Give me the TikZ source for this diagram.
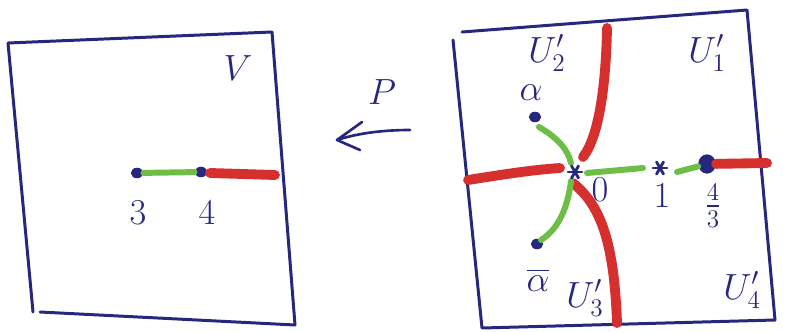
\documentclass[tikz,border=0pt]{standalone}
\usepackage{amsmath}
\usetikzlibrary{arrows.meta,calc,shapes.geometric}
\definecolor{ink}{HTML}{27277E}
\definecolor{redc}{HTML}{D5302E}
\definecolor{greenc}{HTML}{6DBE45}

\begin{document}
\begin{tikzpicture}[
  x=0.02cm,y=-0.02cm,
  frame/.style={draw=ink,line width=1.7pt,line join=round,line cap=round},
  redarc/.style={draw=redc,line width=5.6pt,line cap=round},
  greenarc/.style={draw=greenc,line width=3.4pt,line cap=round},
  pt/.style={ellipse,fill=ink,inner sep=0pt,minimum width=7pt,minimum height=6pt},
  lbl/.style={text=ink,font=\huge,inner sep=1pt},
]
\useasboundingbox (0,0) rectangle (786,331);

% ===================== LEFT PANEL: V =====================
\draw[frame] (8,43) -- (272,32) -- (295,325) -- (40,312) (8,43) -- (33,312);
\node[lbl] (V) at (238,68) {$V$};
\node[pt] (p3) at (137,173) {};
\node[pt] (p4) at (201,172) {};
\coordinate (vR) at (275,175);
\draw[greenarc] (p3) -- (p4);
\draw[redarc] ($(p4)+(9,1)$) -- (vR);
\node[lbl] at (138,213) {$3$};
\node[lbl] at (207,213) {$4$};

% ===================== MAP P =====================
\coordinate (pS) at (410,130);
\coordinate (pT) at (337,140);
\draw[ink,line width=1.5pt,line cap=round,line join=round] (pS) .. controls (380,130) and (355,134) .. (pT);
\draw[ink,line width=1.5pt,line cap=round,line join=round] (362,122) -- (pT) -- (360,150);
\node[lbl] (P) at (382,92) {$P$};

% ===================== RIGHT PANEL: U' =====================
\draw[frame] (462,32) -- (747,10) -- (775,320) -- (482,328) (453,40) -- (482,328);

\coordinate (o) at (575,172);
\coordinate (one) at (660,168);
\node[pt,minimum width=10pt,minimum height=11pt] (p43) at (707,164) {};
\node[pt] (al) at (535,117) {};
\node[pt] (alb) at (537,244) {};

% red branches
\draw[redarc] (468,180) .. controls (500,175) and (530,170) .. (560,168);
\draw[redarc] (p43) -- (767,163);
\draw[redarc] (607,28) .. controls (606,80) and (600,135) .. (583,157);
\draw[redarc] (573,183) .. controls (600,205) and (614,240) .. (617,323);

% green branches
\draw[greenarc] (587,173) -- (643,168);
\draw[greenarc] (677,172) -- (p43);
\draw[greenarc] (539,127) .. controls (558,138) and (568,150) .. (571,163);
\draw[greenarc] (571,181) .. controls (568,205) and (560,228) .. (541,240);

% asterisk points
\foreach \c in {o,one}{
  \foreach \a in {0,60,120}{
    \draw[ink,line width=1.6pt,line cap=round] ($(\c)+(\a:7)$) -- ($(\c)+(\a+180:7)$);
  }
}

% labels
\node[lbl] at (547,53) {$U_2'$};
\node[lbl] at (707,53) {$U_1'$};
\node[lbl] at (531,93) {$\alpha$};
\node[lbl] at (600,190) {$0$};
\node[lbl] at (662,196) {$1$};
\node[lbl] at (713,206) {$\frac{4}{3}$};
\node[lbl] at (538,280) {$\overline{\alpha}$};
\node[lbl] at (585,298) {$U_3'$};
\node[lbl] at (742,290) {$U_4'$};
\end{tikzpicture}
\end{document}
